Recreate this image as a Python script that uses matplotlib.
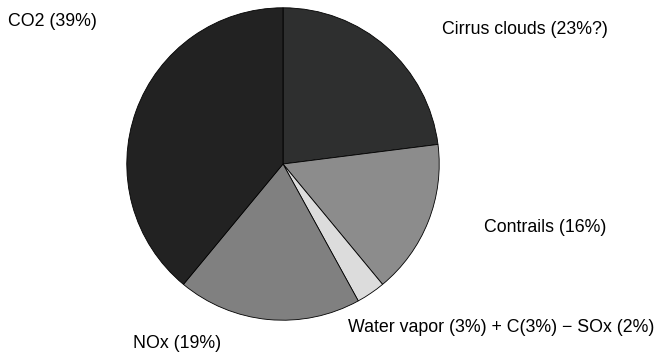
import matplotlib.pyplot as plt

labels = ["Cirrus clouds (23%?)", "Contrails (16%)",
          "Water vapor (3%) + C(3%) \u2212 SOx (2%)", "NOx (19%)", "CO2 (39%)"]
shares = [23, 16, 3, 19, 39]
colors = ["#2e2f2f", "#8c8c8c", "#dcdcdc", "#808080", "#222222"]

# label anchor points (left x, centre y) in pixels from top-left
label_xy = [(442, 30), (484, 228), (348, 327), (133, 343), (8, 22)]

W, H = 655, 353
fig = plt.figure(figsize=(W/100, H/100), dpi=100)
plt.rcParams['font.family'] = ['Liberation Sans', 'DejaVu Sans']

cx, cy, r = 283, 164, 157
ax = fig.add_axes([(cx - r)/W, (H - cy - r)/H, 2*r/W, 2*r/H])
ax.pie(shares, colors=colors, startangle=90, counterclock=False, radius=1,
       wedgeprops=dict(edgecolor="black", linewidth=0.6))
ax.set_xlim(-1.005, 1.005)
ax.set_ylim(-1.005, 1.005)
ax.set_aspect("equal")
ax.axis("off")

for lab, (x, y) in zip(labels, label_xy):
    fig.text(x/W, 1 - y/H, lab, fontsize=12.8, ha="left", va="center")

fig.savefig("out.png", dpi=100)
